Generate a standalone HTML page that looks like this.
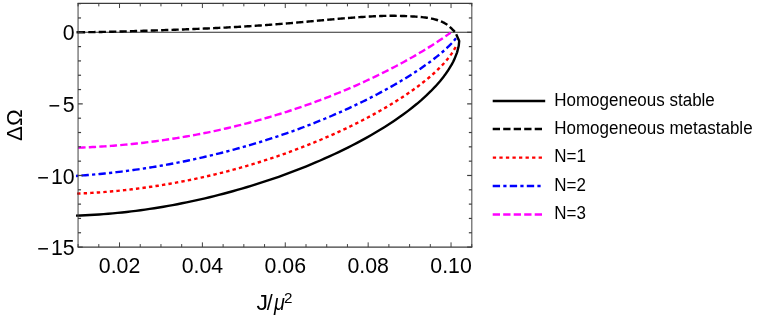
<!DOCTYPE html>
<html><head><meta charset="utf-8"><style>
html,body{margin:0;padding:0;background:#fff;}
svg{display:block;font-family:"Liberation Sans",sans-serif;}
.c{fill:none;stroke-width:2.4;stroke-linejoin:round}
.v{stroke-width:0.97}
</style></head><body>
<svg width="763" height="317" viewBox="0 0 763 317" style="will-change:transform">
<defs><mask id="m" maskUnits="userSpaceOnUse" x="0" y="0" width="763" height="317"><rect width="763" height="317" fill="#fff"/></mask></defs>
<rect width="763" height="317" fill="#fff"/>
<line x1="78.05" y1="32.26" x2="471.84" y2="32.26" stroke="#2c2c2c" stroke-width="1.1"/>
<g class="c">
<path d="M76.00,32.23 L77.60,32.23 L79.21,32.22 L80.81,32.22 L82.42,32.21 L84.02,32.20 L85.63,32.18 L87.23,32.17 L88.84,32.15 L90.44,32.13 L92.05,32.11 L93.65,32.09 L95.26,32.06 L96.86,32.04 L98.46,32.01 L100.07,31.98 L101.67,31.95 L103.28,31.92 L104.88,31.88 L106.49,31.85 L108.09,31.81 L109.69,31.77 L111.30,31.74 L112.90,31.70 L114.51,31.66 L116.11,31.61 L117.72,31.57 L119.32,31.53 L120.92,31.49 L122.53,31.44 L124.13,31.40 L125.74,31.35 L127.34,31.31 L128.94,31.26 L130.55,31.21 L132.15,31.17 L133.76,31.12 L135.36,31.07 L136.96,31.02 L138.57,30.97 L140.17,30.92 L141.78,30.87 L143.38,30.82 L144.98,30.77 L146.59,30.72 L148.19,30.67 L149.79,30.61 L151.40,30.56 L153.00,30.51 L154.61,30.46 L156.21,30.40 L157.81,30.35 L159.42,30.29 L161.02,30.24 L162.63,30.18 L164.23,30.13 L165.83,30.07 L167.44,30.02 L169.04,29.96 L170.64,29.90 L172.25,29.84 L173.85,29.79 L175.45,29.73 L177.06,29.67 L178.66,29.61 L180.27,29.55 L181.87,29.49 L183.47,29.43 L185.08,29.37 L186.68,29.30 L188.28,29.24 L189.89,29.18 L191.49,29.11 L193.09,29.05 L194.70,28.98 L196.30,28.92 L197.90,28.85 L199.51,28.78 L201.11,28.71 L202.71,28.64 L204.32,28.57 L205.92,28.50 L207.52,28.43 L209.12,28.36 L210.73,28.29 L212.33,28.21 L213.93,28.14 L215.54,28.06 L217.14,27.98 L218.74,27.90 L220.34,27.82 L221.95,27.74 L223.55,27.66 L225.15,27.58 L226.76,27.50 L228.36,27.41 L229.96,27.32 L231.56,27.24 L233.16,27.15 L234.77,27.06 L236.37,26.97 L237.97,26.88 L239.57,26.78 L241.17,26.69 L242.78,26.59 L244.38,26.49 L245.98,26.39 L247.58,26.29 L249.18,26.19 L250.78,26.09 L252.39,25.99 L253.99,25.88 L255.59,25.77 L257.19,25.67 L258.79,25.56 L260.39,25.45 L261.99,25.33 L263.59,25.22 L265.19,25.10 L266.79,24.99 L268.39,24.87 L269.99,24.75 L271.59,24.63 L273.19,24.51 L274.79,24.39 L276.39,24.26 L277.99,24.14 L279.59,24.01 L281.19,23.88 L282.79,23.75 L284.39,23.62 L285.99,23.49 L287.59,23.36 L289.19,23.22 L290.79,23.09 L292.39,22.95 L293.99,22.82 L295.58,22.68 L297.18,22.54 L298.78,22.40 L300.38,22.26 L301.98,22.12 L303.58,21.98 L305.18,21.83 L306.77,21.69 L308.37,21.55 L309.97,21.40 L311.57,21.26 L313.17,21.11 L314.76,20.97 L316.36,20.82 L317.96,20.67 L319.56,20.53 L321.16,20.38 L322.75,20.24 L324.35,20.09 L325.95,19.95 L327.55,19.80 L329.15,19.66 L330.75,19.51 L332.34,19.37 L333.94,19.23 L335.54,19.09 L337.14,18.95 L338.74,18.81 L340.34,18.67 L341.94,18.53 L343.53,18.39 L345.13,18.26 L346.73,18.13 L348.33,18.00 L349.93,17.87 L351.53,17.74 L353.13,17.62 L354.73,17.50 L356.33,17.38 L357.93,17.27 L359.53,17.15 L361.13,17.04 L362.73,16.94 L364.34,16.84 L365.94,16.74 L367.54,16.64 L369.14,16.55 L370.74,16.46 L372.35,16.38 L373.95,16.30 L375.55,16.22 L377.16,16.15 L378.76,16.09 L380.37,16.03 L381.97,15.97 L383.57,15.92 L385.18,15.88 L386.78,15.85 L388.39,15.83 L389.99,15.81 L391.60,15.80 L393.20,15.80 L394.80,15.81 L396.41,15.83 L398.01,15.85 L399.61,15.89 L401.22,15.93 L402.82,15.98 L404.42,16.04 L406.03,16.11 L407.63,16.18 L409.23,16.26 L410.84,16.34 L412.44,16.43 L414.05,16.53 L415.66,16.63 L417.26,16.74 L418.87,16.86 L420.47,17.00 L422.07,17.16 L423.67,17.33 L425.26,17.53 L426.85,17.75 L428.44,18.00 L430.01,18.28 L431.59,18.60 L433.15,18.94 L434.71,19.33 L436.26,19.76 L437.79,20.23 L439.31,20.76 L440.81,21.34 L442.29,21.97 L443.74,22.67 L445.15,23.44 L446.51,24.29 L447.82,25.22 L449.07,26.22 L450.28,27.29 L451.44,28.40 L452.58,29.54 L453.70,30.69 L454.80,31.85" stroke="#000" stroke-dasharray="7.235 3.17" stroke-dashoffset="-1.9"/>
<path d="M76.5,32.230000000000004 L78.5,32.230000000000004" stroke="#000"/>
<path d="M78.30,147.68 L80.64,147.60 L82.98,147.51 L85.32,147.41 L87.67,147.30 L90.01,147.19 L92.35,147.07 L94.69,146.94 L97.03,146.81 L99.37,146.67 L101.72,146.52 L104.06,146.37 L106.40,146.21 L108.74,146.04 L111.08,145.87 L113.42,145.68 L115.76,145.50 L118.11,145.30 L120.45,145.10 L122.79,144.89 L125.13,144.67 L127.47,144.45 L129.81,144.22 L132.15,143.98 L134.50,143.74 L136.84,143.49 L139.18,143.23 L141.52,142.96 L143.86,142.69 L146.20,142.41 L148.55,142.12 L150.89,141.83 L153.23,141.52 L155.57,141.22 L157.91,140.90 L160.25,140.58 L162.59,140.25 L164.94,139.91 L167.28,139.56 L169.62,139.21 L171.96,138.85 L174.30,138.48 L176.64,138.11 L178.98,137.73 L181.33,137.34 L183.67,136.94 L186.01,136.54 L188.35,136.12 L190.69,135.70 L193.03,135.28 L195.38,134.84 L197.72,134.40 L200.06,133.95 L202.40,133.50 L204.74,133.03 L207.08,132.56 L209.42,132.08 L211.77,131.59 L214.11,131.10 L216.45,130.59 L218.79,130.08 L221.13,129.56 L223.47,129.04 L225.82,128.50 L228.16,127.96 L230.50,127.41 L232.84,126.85 L235.18,126.29 L237.52,125.71 L239.86,125.13 L242.21,124.54 L244.55,123.94 L246.89,123.34 L249.23,122.72 L251.57,122.10 L253.91,121.47 L256.25,120.83 L258.60,120.19 L260.94,119.53 L263.28,118.87 L265.62,118.19 L267.96,117.51 L270.30,116.83 L272.65,116.13 L274.99,115.42 L277.33,114.71 L279.67,113.99 L282.01,113.26 L284.35,112.52 L286.69,111.77 L289.04,111.01 L291.38,110.24 L293.72,109.47 L296.06,108.69 L298.40,107.89 L300.74,107.09 L303.08,106.28 L305.43,105.46 L307.77,104.63 L310.11,103.80 L312.45,102.95 L314.79,102.09 L317.13,101.23 L319.48,100.35 L321.82,99.47 L324.16,98.58 L326.50,97.67 L328.84,96.76 L331.18,95.84 L333.52,94.90 L335.87,93.96 L338.21,93.01 L340.55,92.05 L342.89,91.08 L345.23,90.09 L347.57,89.10 L349.92,88.10 L352.26,87.09 L354.60,86.06 L356.94,85.03 L359.28,83.98 L361.62,82.93 L363.96,81.86 L366.31,80.78 L368.65,79.70 L370.99,78.60 L373.33,77.48 L375.67,76.36 L378.01,75.23 L380.35,74.08 L382.70,72.92 L385.04,71.75 L387.38,70.57 L389.72,69.38 L392.06,68.17 L394.40,66.95 L396.75,65.71 L399.09,64.47 L401.43,63.21 L403.77,61.93 L406.11,60.64 L408.45,59.34 L410.79,58.02 L413.14,56.69 L415.48,55.34 L417.82,53.97 L420.16,52.59 L422.50,51.19 L424.84,49.78 L427.18,48.34 L429.53,46.89 L431.87,45.41 L434.21,43.92 L436.55,42.40 L438.89,40.86 L441.23,39.29 L443.58,37.69 L445.92,36.06 L448.26,34.39 L450.60,32.68" stroke="#ff00ff" stroke-dasharray="7.3 3.2"/>
<path d="M76.00,175.93 L78.39,175.76 L80.78,175.59 L83.17,175.41 L85.57,175.22 L87.96,175.02 L90.35,174.82 L92.74,174.61 L95.13,174.40 L97.52,174.18 L99.92,173.95 L102.31,173.71 L104.70,173.47 L107.09,173.22 L109.48,172.96 L111.87,172.70 L114.26,172.43 L116.66,172.15 L119.05,171.86 L121.44,171.57 L123.83,171.27 L126.22,170.97 L128.61,170.65 L131.00,170.33 L133.40,170.00 L135.79,169.67 L138.18,169.33 L140.57,168.98 L142.96,168.62 L145.35,168.26 L147.75,167.89 L150.14,167.51 L152.53,167.13 L154.92,166.74 L157.31,166.34 L159.70,165.93 L162.09,165.52 L164.49,165.09 L166.88,164.67 L169.27,164.23 L171.66,163.79 L174.05,163.34 L176.44,162.88 L178.83,162.41 L181.23,161.94 L183.62,161.46 L186.01,160.97 L188.40,160.47 L190.79,159.97 L193.18,159.46 L195.58,158.94 L197.97,158.42 L200.36,157.88 L202.75,157.34 L205.14,156.79 L207.53,156.24 L209.92,155.67 L212.32,155.10 L214.71,154.52 L217.10,153.93 L219.49,153.34 L221.88,152.73 L224.27,152.12 L226.67,151.50 L229.06,150.87 L231.45,150.24 L233.84,149.59 L236.23,148.94 L238.62,148.28 L241.01,147.62 L243.41,146.94 L245.80,146.26 L248.19,145.56 L250.58,144.86 L252.97,144.15 L255.36,143.44 L257.75,142.71 L260.15,141.98 L262.54,141.23 L264.93,140.48 L267.32,139.72 L269.71,138.95 L272.10,138.18 L274.50,137.39 L276.89,136.59 L279.28,135.79 L281.67,134.98 L284.06,134.16 L286.45,133.33 L288.84,132.49 L291.24,131.64 L293.63,130.78 L296.02,129.91 L298.41,129.03 L300.80,128.15 L303.19,127.25 L305.58,126.35 L307.98,125.43 L310.37,124.51 L312.76,123.57 L315.15,122.63 L317.54,121.67 L319.93,120.71 L322.33,119.73 L324.72,118.75 L327.11,117.75 L329.50,116.75 L331.89,115.73 L334.28,114.70 L336.67,113.67 L339.07,112.62 L341.46,111.56 L343.85,110.48 L346.24,109.40 L348.63,108.31 L351.02,107.20 L353.42,106.08 L355.81,104.95 L358.20,103.81 L360.59,102.65 L362.98,101.48 L365.37,100.30 L367.76,99.11 L370.16,97.90 L372.55,96.68 L374.94,95.44 L377.33,94.19 L379.72,92.92 L382.11,91.64 L384.50,90.35 L386.90,89.04 L389.29,87.71 L391.68,86.36 L394.07,85.00 L396.46,83.62 L398.85,82.22 L401.25,80.80 L403.64,79.37 L406.03,77.91 L408.42,76.43 L410.81,74.92 L413.20,73.40 L415.59,71.85 L417.99,70.27 L420.38,68.66 L422.77,67.02 L425.16,65.35 L427.55,63.65 L429.94,61.91 L432.33,60.13 L434.73,58.30 L437.12,56.42 L439.51,54.49 L441.90,52.49 L444.29,50.41 L446.68,48.24 L449.08,45.96 L451.47,43.53 L453.86,40.89 L456.25,37.94" stroke="#0000ff" stroke-dasharray="7.36 3.23 3.23 3.23" stroke-dashoffset="-5.5"/>
<path d="M77.10,193.63 L79.48,193.53 L81.86,193.42 L84.25,193.31 L86.63,193.18 L89.01,193.05 L91.39,192.91 L93.78,192.77 L96.16,192.61 L98.54,192.45 L100.92,192.27 L103.31,192.09 L105.69,191.91 L108.07,191.71 L110.45,191.50 L112.84,191.29 L115.22,191.07 L117.60,190.84 L119.98,190.60 L122.37,190.36 L124.75,190.11 L127.13,189.84 L129.51,189.57 L131.89,189.30 L134.28,189.01 L136.66,188.71 L139.04,188.41 L141.42,188.10 L143.81,187.78 L146.19,187.45 L148.57,187.12 L150.95,186.77 L153.34,186.42 L155.72,186.06 L158.10,185.69 L160.48,185.31 L162.87,184.93 L165.25,184.53 L167.63,184.13 L170.01,183.72 L172.40,183.30 L174.78,182.87 L177.16,182.44 L179.54,181.99 L181.93,181.54 L184.31,181.08 L186.69,180.61 L189.07,180.13 L191.45,179.64 L193.84,179.15 L196.22,178.65 L198.60,178.13 L200.98,177.61 L203.37,177.08 L205.75,176.55 L208.13,176.00 L210.51,175.44 L212.90,174.88 L215.28,174.31 L217.66,173.73 L220.04,173.14 L222.43,172.54 L224.81,171.93 L227.19,171.31 L229.57,170.69 L231.96,170.06 L234.34,169.41 L236.72,168.76 L239.10,168.10 L241.48,167.43 L243.87,166.75 L246.25,166.07 L248.63,165.37 L251.01,164.66 L253.40,163.95 L255.78,163.22 L258.16,162.49 L260.54,161.75 L262.93,161.00 L265.31,160.23 L267.69,159.46 L270.07,158.68 L272.46,157.89 L274.84,157.09 L277.22,156.29 L279.60,155.47 L281.99,154.64 L284.37,153.80 L286.75,152.95 L289.13,152.10 L291.52,151.23 L293.90,150.35 L296.28,149.46 L298.66,148.56 L301.04,147.65 L303.43,146.74 L305.81,145.81 L308.19,144.87 L310.57,143.92 L312.96,142.95 L315.34,141.98 L317.72,141.00 L320.10,140.00 L322.49,139.00 L324.87,137.98 L327.25,136.95 L329.63,135.91 L332.02,134.86 L334.40,133.79 L336.78,132.72 L339.16,131.63 L341.55,130.53 L343.93,129.41 L346.31,128.29 L348.69,127.15 L351.07,125.99 L353.46,124.83 L355.84,123.64 L358.22,122.45 L360.60,121.24 L362.99,120.01 L365.37,118.77 L367.75,117.52 L370.13,116.25 L372.52,114.96 L374.90,113.65 L377.28,112.33 L379.66,110.99 L382.05,109.63 L384.43,108.25 L386.81,106.86 L389.19,105.44 L391.58,104.00 L393.96,102.54 L396.34,101.05 L398.72,99.55 L401.11,98.01 L403.49,96.45 L405.87,94.86 L408.25,93.25 L410.63,91.60 L413.02,89.91 L415.40,88.20 L417.78,86.44 L420.16,84.64 L422.55,82.80 L424.93,80.91 L427.31,78.97 L429.69,76.96 L432.08,74.90 L434.46,72.76 L436.84,70.53 L439.22,68.21 L441.61,65.78 L443.99,63.21 L446.37,60.49 L448.75,57.55 L451.14,54.35 L453.52,50.77 L455.90,46.61" stroke="#ff0000" stroke-dasharray="3.4 3.164"/>
<path d="M76.00,215.66 L80.61,215.49 L85.22,215.29 L89.82,215.05 L94.43,214.78 L99.04,214.48 L103.65,214.14 L108.25,213.77 L112.86,213.36 L117.47,212.92 L122.08,212.45 L126.68,211.94 L131.29,211.40 L135.90,210.83 L140.51,210.22 L145.11,209.59 L149.72,208.91 L154.33,208.21 L158.94,207.47 L163.54,206.71 L168.15,205.90 L172.76,205.07 L177.37,204.20 L181.97,203.30 L186.58,202.37 L191.19,201.41 L195.80,200.41 L200.41,199.38 L205.01,198.32 L209.62,197.23 L214.23,196.10 L218.84,194.94 L223.44,193.74 L228.05,192.52 L232.66,191.26 L237.27,189.96 L241.87,188.64 L246.48,187.27 L251.09,185.88 L255.70,184.45 L260.30,182.98 L264.91,181.48 L269.52,179.94 L274.13,178.37 L278.73,176.76 L283.34,175.11 L287.95,173.42 L292.56,171.70 L297.16,169.93 L301.77,168.13 L306.38,166.28 L310.99,164.39 L315.59,162.46 L320.20,160.48 L324.81,158.45 L329.42,156.38 L334.03,154.26 L338.63,152.09 L343.24,149.86 L347.85,147.58 L352.46,145.24 L357.06,142.84 L361.67,140.37 L366.28,137.84 L370.89,135.23 L375.49,132.55 L380.10,129.79 L384.71,126.94 L389.32,124.00 L393.92,120.95 L398.53,117.80 L403.14,114.52 L407.75,111.10 L412.35,107.53 L416.96,103.79 L421.57,99.84 L426.18,95.67 L430.78,91.22 L435.39,86.42 L440.00,81.19 L441.00,79.98 L441.61,79.24 L442.21,78.48 L442.82,77.71 L443.43,76.93 L444.03,76.13 L444.64,75.32 L445.25,74.50 L445.86,73.66 L446.46,72.80 L447.07,71.93 L447.68,71.03 L448.28,70.12 L448.89,69.18 L449.50,68.22 L450.10,67.24 L450.71,66.22 L451.32,65.18 L451.92,64.10 L452.53,62.98 L453.14,61.82 L453.74,60.61 L454.35,59.34 L457.10,52.35 L458.70,46.05 L459.20,41.05 L456.20,34.15" stroke="#000"/>
</g>
<g stroke="#3c3c3c" stroke-width="1.2" fill="none">
<line x1="77.55" y1="3.36" x2="472.34" y2="3.36"/><line x1="77.55" y1="247.07" x2="472.34" y2="247.07"/>
<line class="v" x1="78.05" y1="3.36" x2="78.05" y2="247.07"/><line class="v" x1="471.84" y1="3.36" x2="471.84" y2="247.07"/>
<line class="v" x1="78.08" y1="247.07" x2="78.08" y2="244.07"/>
<line class="v" x1="78.08" y1="3.36" x2="78.08" y2="6.359999999999999"/>
<line class="v" x1="98.80" y1="247.07" x2="98.80" y2="244.07"/>
<line class="v" x1="98.80" y1="3.36" x2="98.80" y2="6.359999999999999"/>
<line class="v" x1="119.52" y1="247.07" x2="119.52" y2="242.37"/>
<line class="v" x1="119.52" y1="3.36" x2="119.52" y2="8.06"/>
<line class="v" x1="140.24" y1="247.07" x2="140.24" y2="244.07"/>
<line class="v" x1="140.24" y1="3.36" x2="140.24" y2="6.359999999999999"/>
<line class="v" x1="160.96" y1="247.07" x2="160.96" y2="244.07"/>
<line class="v" x1="160.96" y1="3.36" x2="160.96" y2="6.359999999999999"/>
<line class="v" x1="181.68" y1="247.07" x2="181.68" y2="244.07"/>
<line class="v" x1="181.68" y1="3.36" x2="181.68" y2="6.359999999999999"/>
<line class="v" x1="202.40" y1="247.07" x2="202.40" y2="242.37"/>
<line class="v" x1="202.40" y1="3.36" x2="202.40" y2="8.06"/>
<line class="v" x1="223.12" y1="247.07" x2="223.12" y2="244.07"/>
<line class="v" x1="223.12" y1="3.36" x2="223.12" y2="6.359999999999999"/>
<line class="v" x1="243.84" y1="247.07" x2="243.84" y2="244.07"/>
<line class="v" x1="243.84" y1="3.36" x2="243.84" y2="6.359999999999999"/>
<line class="v" x1="264.56" y1="247.07" x2="264.56" y2="244.07"/>
<line class="v" x1="264.56" y1="3.36" x2="264.56" y2="6.359999999999999"/>
<line class="v" x1="285.28" y1="247.07" x2="285.28" y2="242.37"/>
<line class="v" x1="285.28" y1="3.36" x2="285.28" y2="8.06"/>
<line class="v" x1="306.00" y1="247.07" x2="306.00" y2="244.07"/>
<line class="v" x1="306.00" y1="3.36" x2="306.00" y2="6.359999999999999"/>
<line class="v" x1="326.72" y1="247.07" x2="326.72" y2="244.07"/>
<line class="v" x1="326.72" y1="3.36" x2="326.72" y2="6.359999999999999"/>
<line class="v" x1="347.44" y1="247.07" x2="347.44" y2="244.07"/>
<line class="v" x1="347.44" y1="3.36" x2="347.44" y2="6.359999999999999"/>
<line class="v" x1="368.16" y1="247.07" x2="368.16" y2="242.37"/>
<line class="v" x1="368.16" y1="3.36" x2="368.16" y2="8.06"/>
<line class="v" x1="388.88" y1="247.07" x2="388.88" y2="244.07"/>
<line class="v" x1="388.88" y1="3.36" x2="388.88" y2="6.359999999999999"/>
<line class="v" x1="409.60" y1="247.07" x2="409.60" y2="244.07"/>
<line class="v" x1="409.60" y1="3.36" x2="409.60" y2="6.359999999999999"/>
<line class="v" x1="430.32" y1="247.07" x2="430.32" y2="244.07"/>
<line class="v" x1="430.32" y1="3.36" x2="430.32" y2="6.359999999999999"/>
<line class="v" x1="451.04" y1="247.07" x2="451.04" y2="242.37"/>
<line class="v" x1="451.04" y1="3.36" x2="451.04" y2="8.06"/>
<line class="v" x1="471.76" y1="247.07" x2="471.76" y2="244.07"/>
<line class="v" x1="471.76" y1="3.36" x2="471.76" y2="6.359999999999999"/>
<line x1="78.05" y1="247.08" x2="82.75" y2="247.08"/>
<line x1="471.84" y1="247.08" x2="467.14" y2="247.08"/>
<line x1="78.05" y1="232.76" x2="81.05" y2="232.76"/>
<line x1="471.84" y1="232.76" x2="468.84" y2="232.76"/>
<line x1="78.05" y1="218.44" x2="81.05" y2="218.44"/>
<line x1="471.84" y1="218.44" x2="468.84" y2="218.44"/>
<line x1="78.05" y1="204.12" x2="81.05" y2="204.12"/>
<line x1="471.84" y1="204.12" x2="468.84" y2="204.12"/>
<line x1="78.05" y1="189.80" x2="81.05" y2="189.80"/>
<line x1="471.84" y1="189.80" x2="468.84" y2="189.80"/>
<line x1="78.05" y1="175.48" x2="82.75" y2="175.48"/>
<line x1="471.84" y1="175.48" x2="467.14" y2="175.48"/>
<line x1="78.05" y1="161.16" x2="81.05" y2="161.16"/>
<line x1="471.84" y1="161.16" x2="468.84" y2="161.16"/>
<line x1="78.05" y1="146.84" x2="81.05" y2="146.84"/>
<line x1="471.84" y1="146.84" x2="468.84" y2="146.84"/>
<line x1="78.05" y1="132.52" x2="81.05" y2="132.52"/>
<line x1="471.84" y1="132.52" x2="468.84" y2="132.52"/>
<line x1="78.05" y1="118.20" x2="81.05" y2="118.20"/>
<line x1="471.84" y1="118.20" x2="468.84" y2="118.20"/>
<line x1="78.05" y1="103.88" x2="82.75" y2="103.88"/>
<line x1="471.84" y1="103.88" x2="467.14" y2="103.88"/>
<line x1="78.05" y1="89.56" x2="81.05" y2="89.56"/>
<line x1="471.84" y1="89.56" x2="468.84" y2="89.56"/>
<line x1="78.05" y1="75.24" x2="81.05" y2="75.24"/>
<line x1="471.84" y1="75.24" x2="468.84" y2="75.24"/>
<line x1="78.05" y1="60.92" x2="81.05" y2="60.92"/>
<line x1="471.84" y1="60.92" x2="468.84" y2="60.92"/>
<line x1="78.05" y1="46.60" x2="81.05" y2="46.60"/>
<line x1="471.84" y1="46.60" x2="468.84" y2="46.60"/>
<line x1="78.05" y1="32.28" x2="82.75" y2="32.28"/>
<line x1="471.84" y1="32.28" x2="467.14" y2="32.28"/>
<line x1="78.05" y1="17.96" x2="81.05" y2="17.96"/>
<line x1="471.84" y1="17.96" x2="468.84" y2="17.96"/>
<line x1="78.05" y1="3.64" x2="81.05" y2="3.64"/>
<line x1="471.84" y1="3.64" x2="468.84" y2="3.64"/>
</g>
<g font-size="21.3" fill="#000" mask="url(#m)"><text transform="translate(119.5,273.0) scale(1.0,1)" text-anchor="middle">0.02</text><text transform="translate(202.4,273.0) scale(1.0,1)" text-anchor="middle">0.04</text><text transform="translate(285.3,273.0) scale(1.0,1)" text-anchor="middle">0.06</text><text transform="translate(368.2,273.0) scale(1.0,1)" text-anchor="middle">0.08</text><text transform="translate(451.0,273.0) scale(1.0,1)" text-anchor="middle">0.10</text><text transform="translate(74.6,40.4) scale(1.0,1)" text-anchor="end">0</text><text transform="translate(74.6,112.0) scale(1.0,1)" text-anchor="end">5</text><text transform="translate(48.5,113.0) scale(0.94,1)" text-anchor="start">−</text><text transform="translate(74.6,183.6) scale(1.0,1)" text-anchor="end">10</text><text transform="translate(37.2,184.6) scale(0.94,1)" text-anchor="start">−</text><text transform="translate(74.6,255.2) scale(1.0,1)" text-anchor="end">15</text><text transform="translate(37.2,256.2) scale(0.94,1)" text-anchor="start">−</text>
<text transform="translate(256.4,309.6) scale(1.08,1)" text-anchor="start">J</text><text transform="translate(266.7,309.6) scale(1.0,1)" text-anchor="start">/</text><text transform="translate(273.9,309.6) scale(0.93,1)" text-anchor="start" font-style="italic">μ</text><text transform="translate(284.0,303.1) scale(1.0,1)" text-anchor="start" font-size="15.2">2</text>
<text transform="translate(22.1,125.2) rotate(-90) scale(1.05,1)" text-anchor="middle">ΔΩ</text>
</g>
<g class="c" stroke-width="2.15">
<line x1="492.7" y1="101" x2="545.2" y2="101" stroke="#000"/>
<line x1="492.7" y1="129" x2="545.2" y2="129" stroke="#000" stroke-dasharray="7.3 3.2"/>
<line x1="492.8" y1="157.6" x2="543" y2="157.6" stroke="#f00" stroke-dasharray="3.3 3.25"/>
<line x1="492.7" y1="186" x2="541" y2="186" stroke="#00f" stroke-dasharray="7.36 3.23 3.23 3.23"/>
<line x1="492.7" y1="214.5" x2="545.2" y2="214.5" stroke="#f0f" stroke-dasharray="7.3 3.2"/>
</g>
<g font-size="17.6" fill="#000" mask="url(#m)">
<text transform="translate(554.2,105.8) scale(0.966,1)" text-anchor="start">Homogeneous stable</text>
<text transform="translate(554.2,134.3) scale(0.966,1)" text-anchor="start">Homogeneous metastable</text>
<text transform="translate(554.2,162.3) scale(0.966,1)" text-anchor="start">N=1</text>
<text transform="translate(554.2,190.9) scale(0.966,1)" text-anchor="start">N=2</text>
<text transform="translate(554.2,219.3) scale(0.966,1)" text-anchor="start">N=3</text>
</g>
</svg>
</body></html>
